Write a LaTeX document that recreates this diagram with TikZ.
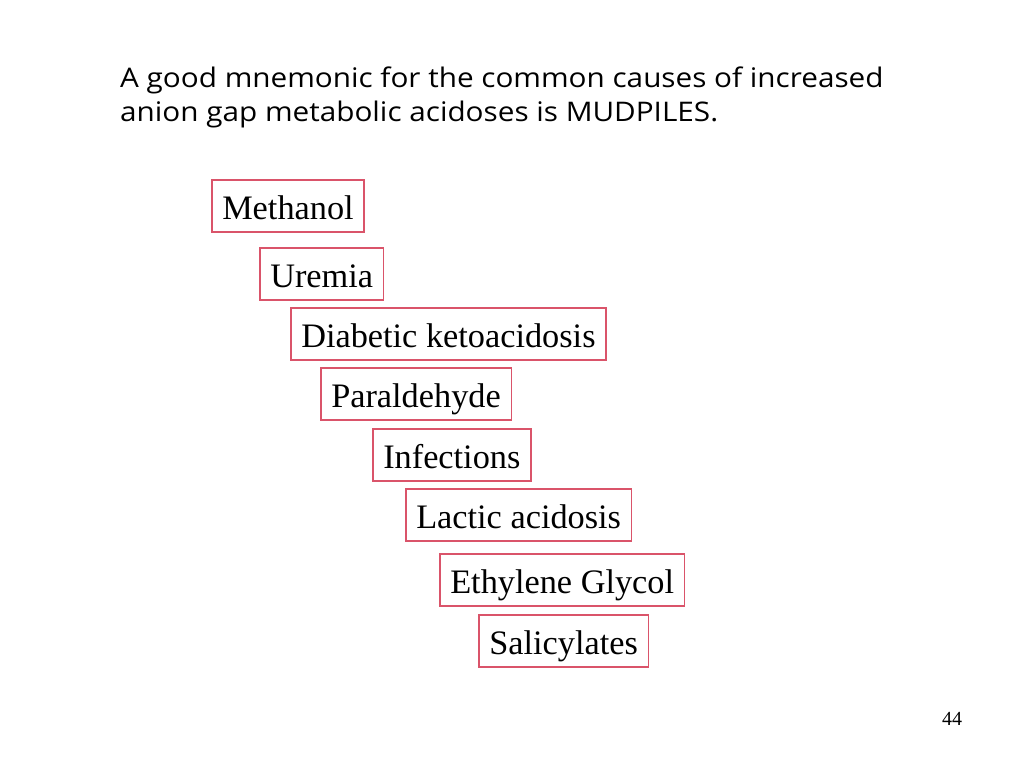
\documentclass[tikz,border=0pt]{standalone}
\usepackage{fontspec}
\setmainfont{Liberation Serif}
\newfontfamily\headfont[FakeStretch=1.1]{Open Sans}
\definecolor{boxred}{RGB}{218,84,106}

\begin{document}
\begin{tikzpicture}[x=1pt, y=-1pt]
        \tikzstyle{cause}=[draw=boxred,line width=1.5pt,anchor=north west,inner xsep=10.5pt,inner ysep=0pt,minimum height=52pt,text height=29pt,text depth=1pt,font=\fontsize{34.3}{36}\selectfont]

        \useasboundingbox (0,0) rectangle (1024,768);

        \node[anchor=north west,align=left,inner sep=0pt,font=\headfont\fontsize{27}{34}\selectfont] (title) at (120,67)
            {A good mnemonic for the common causes of increased\\anion gap metabolic acidoses is MUDPILES.};

        \node[cause] (M_1) at (211,179) {Methanol};
        \node[cause] (U_1) at (259,247) {Uremia};
        \node[cause] (D_1) at (290,307) {Diabetic ketoacidosis};
        \node[cause] (P_1) at (320,367) {Paraldehyde};
        \node[cause] (I_1) at (372,428) {Infections};
        \node[cause] (L_1) at (405,488) {Lactic acidosis};
        \node[cause] (E_1) at (439,553) {Ethylene Glycol};
        \node[cause] (S_1) at (478,614) {Salicylates};

        \node[anchor=base,inner sep=0pt,font=\fontsize{20}{22}\selectfont] (page) at (952,725) {44};
    \end{tikzpicture}
\end{document}
